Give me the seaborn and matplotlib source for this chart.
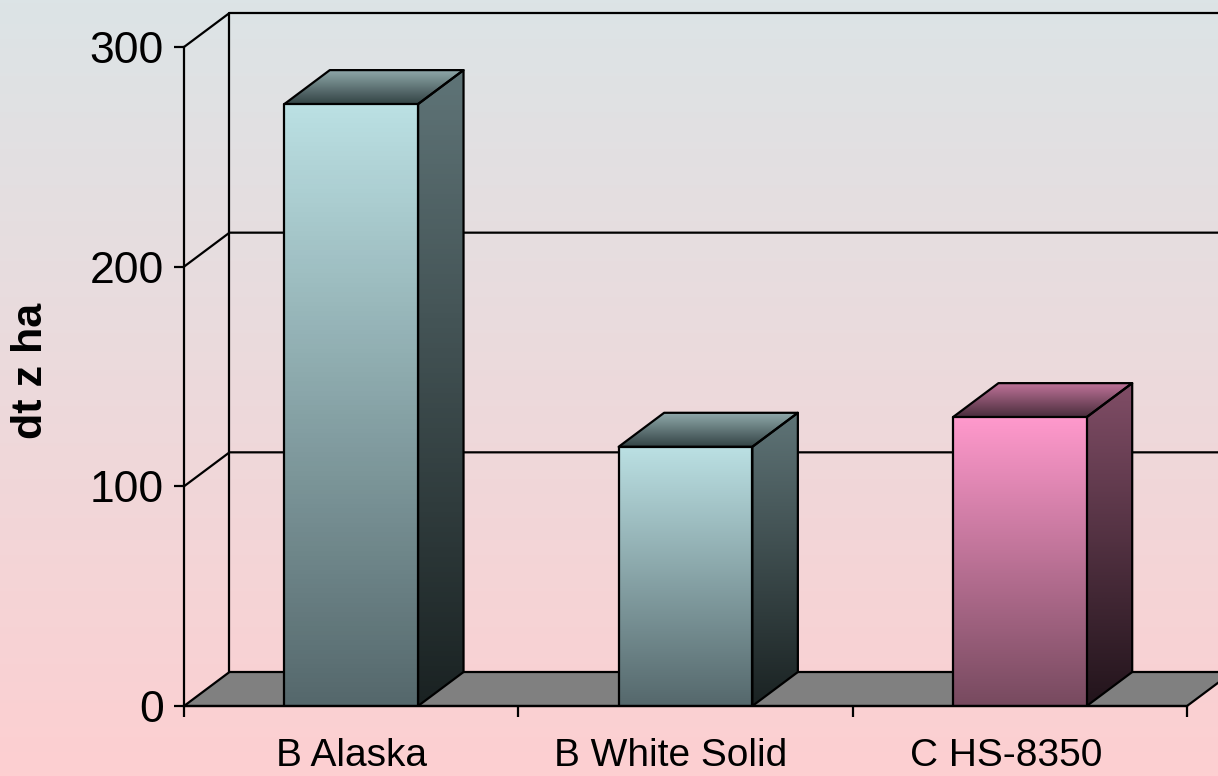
import numpy as np
import matplotlib
matplotlib.use("Agg")
import matplotlib.pyplot as plt
from matplotlib.colors import LinearSegmentedColormap
from matplotlib.patches import Polygon
from matplotlib.transforms import ScaledTranslation
import seaborn as sns

sns.set_style("ticks")
plt.rcParams['font.family'] = ['Liberation Sans', 'DejaVu Sans']

categories = ["B Alaska", "B White Solid", "C HS-8350"]
values = [274, 118, 131.5]
yticks = [0, 100, 200, 300]

front_top = ["#BBE0E3", "#BBE0E3", "#FF99CC"]
front_bottom = ["#55686C", "#55686C", "#774A5F"]
side_top = ["#5F7477", "#5F7477", "#804D66"]
side_bottom = ["#1A2222", "#1A2222", "#22141B"]
roof_back = ["#8FA8AA", "#8FA8AA", "#BF7399"]
roof_front = ["#334344", "#334344", "#4A2D3C"]
label_shift = [0, -15, -14]

W, H = 1218, 776
LW = 1.6

fig = plt.figure(figsize=(W / 100, H / 100), dpi=100)

# page background
bg = fig.add_axes([0, 0, 1, 1], zorder=-1)
bg.imshow(np.linspace(0, 1, 256).reshape(-1, 1), aspect="auto",
          cmap=LinearSegmentedColormap.from_list("bg", ["#DCE4E6", "#FDCFD1"]))
bg.axis("off")

ax = fig.add_axes([184 / W, 1 - 706 / H, 1003 / W, 659 / H])
ax.patch.set_alpha(0)

sns.barplot(x=categories, y=values, hue=categories, palette=front_top,
            width=0.4, legend=False, ax=ax, zorder=5)
bars = list(ax.patches)
ax.set_xlim(-0.5, 2.5)
ax.set_ylim(0, 300)

# 3d offset of the back wall, in data units
dx = 45.5 / 1003 * 3
dy = 34 / 659 * 300


def shade(points, top, bottom, z):
    xs = [p[0] for p in points]
    ys = [p[1] for p in points]
    cmap = LinearSegmentedColormap.from_list("g", [bottom, top])
    im = ax.imshow(np.linspace(0, 1, 128).reshape(-1, 1), origin="lower", aspect="auto",
                   cmap=cmap, extent=(min(xs), max(xs), min(ys), max(ys)), zorder=z)
    im.set_clip_path(Polygon(points, transform=ax.transData))
    ax.add_patch(Polygon(points, closed=True, fill=False, edgecolor="black",
                         linewidth=LW, zorder=z + 0.1, joinstyle="round"))


# floor
ax.add_patch(Polygon([(-0.5, 0), (-0.5 + dx, dy), (2.5 + dx, dy), (2.5, 0)], closed=True,
                     facecolor="#808080", edgecolor="black", linewidth=LW,
                     clip_on=False, zorder=2))

# back wall and gridlines
for t in yticks:
    if t > 0:
        ax.plot([-0.5, -0.5 + dx, 2.5 + dx], [t, t + dy, t + dy], color="black",
                linewidth=LW, clip_on=False, zorder=1)
ax.plot([-0.5 + dx, -0.5 + dx], [dy, 300 + dy], color="black", linewidth=LW,
        clip_on=False, zorder=1)

# bars: front from seaborn, sides and roof built on the same rectangles
for i, bar in enumerate(bars):
    x0, w, h = bar.get_x(), bar.get_width(), bar.get_height()
    x1 = x0 + w
    shade([(x0, 0), (x1, 0), (x1, h), (x0, h)], front_top[i], front_bottom[i], 5)
    bar.set_visible(False)
    shade([(x1, 0), (x1 + dx, dy), (x1 + dx, h + dy), (x1, h)], side_top[i], side_bottom[i], 4)
    shade([(x0, h), (x1, h), (x1 + dx, h + dy), (x0 + dx, h + dy)], roof_back[i], roof_front[i], 4)

ax.set_xlim(-0.5, 2.5)
ax.set_ylim(0, 300)

sns.despine(ax=ax, top=True, right=True)
for side in ["left", "bottom"]:
    ax.spines[side].set_linewidth(LW)
    ax.spines[side].set_color("black")
    ax.spines[side].set_zorder(6)

ax.set_yticks(yticks)
ax.tick_params(axis="y", length=7.5, width=LW, color="black", labelsize=32, pad=7, labelcolor="black")
ax.set_xticks([0, 1, 2])
ax.set_xticklabels(categories)
ax.tick_params(axis="x", length=0, labelsize=28, pad=23, labelcolor="black")
ax.set_xticks([-0.5, 0.5, 1.5, 2.5], minor=True)
ax.tick_params(axis="x", which="minor", length=8, width=LW, color="black")

# labels in the reference sit a bit left of the bars
for lab, shift in zip(ax.get_xticklabels(), label_shift):
    lab.set_transform(lab.get_transform() + ScaledTranslation(shift / 100, 0, fig.dpi_scale_trans))

ax.set_ylabel("dt z ha", fontsize=31, fontweight="bold", color="black", va="center")
ax.yaxis.set_label_coords((31 - 184) / 1003, (706 - 371) / 659)

fig.savefig("out.png", dpi=100)
